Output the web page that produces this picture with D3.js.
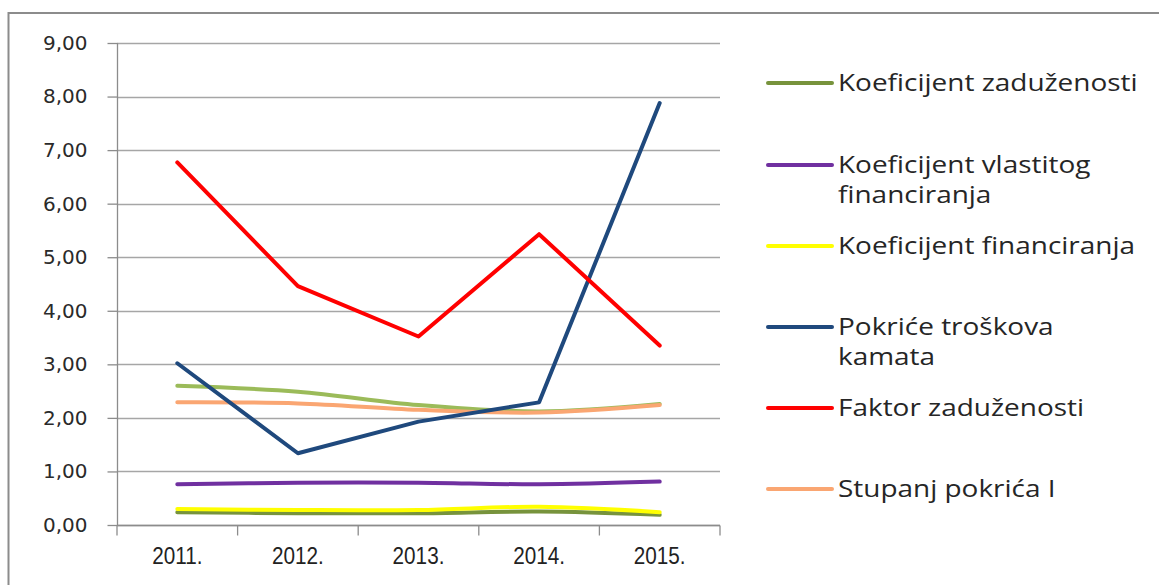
<!DOCTYPE html>
<html>
<head>
<meta charset="utf-8">
<script src="https://cdn.jsdelivr.net/npm/d3@7"></script>
<style>
  body { margin: 0; background: #fff; }
</style>
</head>
<body>
<div id="chart"></div>
<script>
// data
const years = ["2011.", "2012.", "2013.", "2014.", "2015."];
const yTicks = [0, 1, 2, 3, 4, 5, 6, 7, 8, 9];

const koefZaduzenosti = [0.24, 0.22, 0.22, 0.25, 0.19];
const koefVlastitog = [0.76, 0.79, 0.79, 0.76, 0.81];
const koefFinanciranja = [0.30, 0.28, 0.28, 0.34, 0.24];
const pokriceTroskova = [3.02, 1.34, 1.93, 2.29, 7.88];
const faktorZaduzenosti = [6.77, 4.46, 3.52, 5.43, 3.35];
const stupanjPokricaI = [2.29, 2.27, 2.15, 2.10, 2.24];
const stupanjPokricaII = [2.60, 2.49, 2.24, 2.12, 2.26];

// draw order (first = bottom)
const series = [
    {name: "Stupanj pokrića II", values: stupanjPokricaII, color: "#9BBB59", smooth: true},
    {name: "Stupanj pokrića I", values: stupanjPokricaI, color: "#FAA672", smooth: true},
    {name: "Koeficijent zaduženosti", values: koefZaduzenosti, color: "#77933C", smooth: true},
    {name: "Koeficijent vlastitog financiranja", values: koefVlastitog, color: "#7030A0", smooth: true},
    {name: "Koeficijent financiranja", values: koefFinanciranja, color: "#FFFF00", smooth: true},
    {name: "Pokriće troškova kamata", values: pokriceTroskova, color: "#1F497D", smooth: false},
    {name: "Faktor zaduženosti", values: faktorZaduzenosti, color: "#FF0000", smooth: false}
];

const legendItems = [
    {lines: ["Koeficijent zaduženosti"], color: "#77933C", y: 83},
    {lines: ["Koeficijent vlastitog", "financiranja"], color: "#7030A0", y: 165},
    {lines: ["Koeficijent financiranja"], color: "#FFFF00", y: 246},
    {lines: ["Pokriće troškova", "kamata"], color: "#1F497D", y: 327},
    {lines: ["Faktor zaduženosti"], color: "#FF0000", y: 408},
    {lines: ["Stupanj pokrića I"], color: "#FAA672", y: 489}
];

const W = 1159, H = 585;
const plot = {left: 117, right: 720, top: 43, bottom: 525};

const svg = d3.select("#chart").append("svg")
    .attr("width", W)
    .attr("height", H);

// outer frame
svg.append("rect")
    .attr("x", 8.5).attr("y", 13)
    .attr("width", W).attr("height", H)
    .attr("fill", "#fff")
    .attr("stroke", "#8c8c8c")
    .attr("stroke-width", 2);

const x = d3.scaleBand()
    .domain(years)
    .range([plot.left, plot.right]);

const y = d3.scaleLinear()
    .domain([0, 9])
    .range([plot.bottom, plot.top]);

// gridlines
svg.append("g")
    .selectAll("line")
    .data(yTicks)
    .join("line")
    .attr("x1", plot.left).attr("x2", plot.right)
    .attr("y1", d => Math.round(y(d)) + 0.5)
    .attr("y2", d => Math.round(y(d)) + 0.5)
    .attr("stroke", "#a6a6a6")
    .attr("stroke-width", 1.3);

// y axis
const yAxis = svg.append("g")
    .attr("transform", `translate(${plot.left + 0.5},0)`)
    .call(d3.axisLeft(y)
        .tickValues(yTicks)
        .tickSize(10)
        .tickPadding(20)
        .tickFormat(d => d3.format(".2f")(d).replace(".", ",")));
yAxis.selectAll("line, path").attr("stroke", "#8c8c8c").attr("stroke-width", 1.3);
yAxis.select("path").attr("d", `M0,${plot.top}V${plot.bottom}`);
yAxis.selectAll("text")
    .attr("fill", "#2a2a2a")
    .style("font-family", "'DejaVu Sans', Verdana, sans-serif")
    .style("font-size", "20px");

// x axis
const xAxis = svg.append("g")
    .attr("transform", `translate(0,${plot.bottom + 0.5})`)
    .call(d3.axisBottom(x).tickSize(0).tickPadding(22));
xAxis.select("path").attr("stroke", "#8c8c8c").attr("stroke-width", 1.3)
    .attr("d", `M${plot.left},0H${plot.right}`);
xAxis.selectAll(".tick text")
    .attr("fill", "#222")
    .style("font-family", "'Liberation Sans Narrow', 'Arial Narrow', sans-serif")
    .style("font-size", "23px")
    .attr("transform", "scale(0.9,1)");
// category boundary ticks
xAxis.append("g")
    .selectAll("line")
    .data(years.concat(["end"]))
    .join("line")
    .attr("x1", (d, i) => i < years.length ? x(d) : x(years[years.length - 1]) + x.bandwidth())
    .attr("x2", (d, i) => i < years.length ? x(d) : x(years[years.length - 1]) + x.bandwidth())
    .attr("y1", 0).attr("y2", 10)
    .attr("stroke", "#8c8c8c")
    .attr("stroke-width", 1.3);

// lines
const cx = (d, i) => x(years[i]) + x.bandwidth() / 2;
svg.append("g")
    .selectAll("path")
    .data(series)
    .join("path")
    .attr("fill", "none")
    .attr("stroke", d => d.color)
    .attr("stroke-width", 4)
    .attr("stroke-linecap", "round")
    .attr("stroke-linejoin", "round")
    .attr("d", d => d3.line()
        .x(cx)
        .y(v => y(v))
        .curve(d.smooth ? d3.curveCatmullRom : d3.curveLinear)(d.values));

// legend
const legend = svg.append("g");
const items = legend.selectAll("g")
    .data(legendItems)
    .join("g")
    .attr("transform", d => `translate(0,${d.y})`);
items.append("line")
    .attr("x1", 768).attr("x2", 832)
    .attr("y1", 0).attr("y2", 0)
    .attr("stroke", d => d.color)
    .attr("stroke-width", 4)
    .attr("stroke-linecap", "round");
items.append("text")
    .attr("transform", "translate(838,0) scale(1.165,1)")
    .attr("fill", "#262626")
    .style("font-family", "'Open Sans', sans-serif")
    .style("font-size", "24px")
    .selectAll("tspan")
    .data(d => d.lines)
    .join("tspan")
    .attr("x", 0)
    .attr("y", (d, i) => i * 30)
    .attr("dy", "0.35em")
    .text(d => d);
</script>
</body>
</html>
